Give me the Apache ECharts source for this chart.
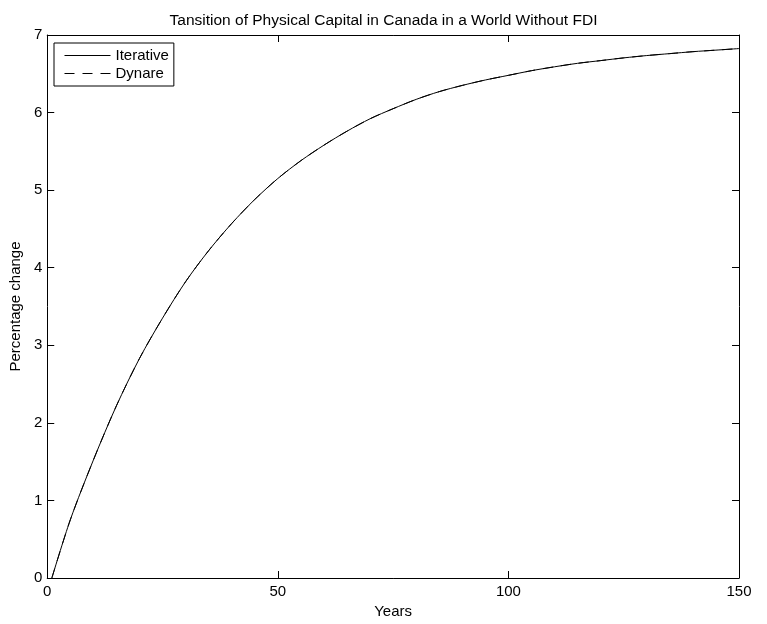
<!DOCTYPE html>
<html>
<head>
<meta charset="utf-8">
<script src="https://cdn.jsdelivr.net/npm/echarts@6/dist/echarts.min.js"></script>
<style>
  html, body { margin: 0; padding: 0; background: #fff; }
  #chart { width: 767px; height: 624px; }
</style>
</head>
<body>
<div id="chart"></div>
<script>
const titleText = "Tansition of Physical Capital in Canada in a World Without FDI";
const xTitle = "Years";
const yTitle = "Percentage change";
const seriesNames = ["Iterative", "Dynare"];
const years = [1, 5, 10, 15, 20, 25, 30, 35, 40, 45, 50, 55, 60, 65, 70, 75, 80, 85, 90, 95, 100, 105, 110, 115, 120, 125, 130, 135, 140, 145, 150];
const iterative = [0, 0.75, 1.52, 2.22, 2.83, 3.35, 3.82, 4.22, 4.57, 4.88, 5.15, 5.38, 5.58, 5.76, 5.92, 6.05, 6.17, 6.27, 6.35, 6.42, 6.48, 6.54, 6.59, 6.635, 6.67, 6.705, 6.735, 6.76, 6.785, 6.805, 6.825];
const dynare = [0, 0.75, 1.52, 2.22, 2.83, 3.35, 3.82, 4.22, 4.57, 4.88, 5.15, 5.38, 5.58, 5.76, 5.92, 6.05, 6.17, 6.27, 6.35, 6.42, 6.48, 6.54, 6.59, 6.635, 6.67, 6.705, 6.735, 6.76, 6.785, 6.805, 6.825];

const FONT = "Liberation Sans, Arial, Helvetica, sans-serif";
const pairs = (ys) => years.map((x, i) => [x, ys[i]]);

const chart = echarts.init(document.getElementById('chart'), null, { renderer: 'canvas' });
const tickStyle = { show: true, inside: true, length: 7, lineStyle: { color: '#000', width: 1 } };
const lineStyleAxis = { show: true, onZero: false, lineStyle: { color: '#000', width: 1 } };

chart.setOption({
  backgroundColor: '#fff',
  animation: false,
  title: {
    text: titleText,
    left: 'center',
    top: 8,
    textStyle: { fontFamily: FONT, fontSize: 15.5, fontWeight: 'normal', color: '#000' }
  },
  legend: {
    orient: 'vertical',
    left: 54,
    top: 43,
    padding: [5, 5, 5, 10],
    itemGap: 3,
    itemWidth: 46,
    itemHeight: 14,
    borderColor: '#000',
    borderWidth: 1,
    borderRadius: 0,
    backgroundColor: '#fff',
    lineStyle: { width: 1 },
    itemStyle: { borderWidth: 0 },
    textStyle: { fontFamily: FONT, fontSize: 15, color: '#000' },
    data: seriesNames
  },
  grid: { left: 47, right: 28, top: 35, bottom: 42, containLabel: false },
  xAxis: [
    {
      type: 'value', min: 0, max: 150, interval: 50,
      name: xTitle, nameLocation: 'middle', nameGap: 26,
      nameTextStyle: { fontFamily: FONT, fontSize: 15, color: '#000' },
      axisLine: lineStyleAxis, axisTick: tickStyle, splitLine: { show: false },
      axisLabel: { fontFamily: FONT, fontSize: 15, color: '#000', margin: 6 }
    },
    {
      type: 'value', min: 0, max: 150, interval: 50, position: 'top',
      axisLine: lineStyleAxis, axisTick: tickStyle, splitLine: { show: false },
      axisLabel: { show: false }
    }
  ],
  yAxis: [
    {
      type: 'value', min: 0, max: 7, interval: 1,
      name: yTitle, nameLocation: 'middle', nameGap: 20,
      nameTextStyle: { fontFamily: FONT, fontSize: 15, color: '#000' },
      axisLine: lineStyleAxis, axisTick: tickStyle, splitLine: { show: false },
      axisLabel: { fontFamily: FONT, fontSize: 15, color: '#000', margin: 5 }
    },
    {
      type: 'value', min: 0, max: 7, interval: 1, position: 'right',
      axisLine: lineStyleAxis, axisTick: tickStyle, splitLine: { show: false },
      axisLabel: { show: false }
    }
  ],
  series: [
    {
      name: seriesNames[0], type: 'line', data: pairs(iterative),
      symbol: 'none', smooth: 0.3,
      lineStyle: { color: '#000', width: 1, type: 'solid' },
      itemStyle: { color: 'rgba(0,0,0,0)' }
    },
    {
      name: seriesNames[1], type: 'line', data: pairs(dynare),
      symbol: 'none', smooth: 0.3,
      lineStyle: { color: '#000', width: 1, type: [10, 8] },
      itemStyle: { color: 'rgba(0,0,0,0)' }
    }
  ]
});
</script>
</body>
</html>
